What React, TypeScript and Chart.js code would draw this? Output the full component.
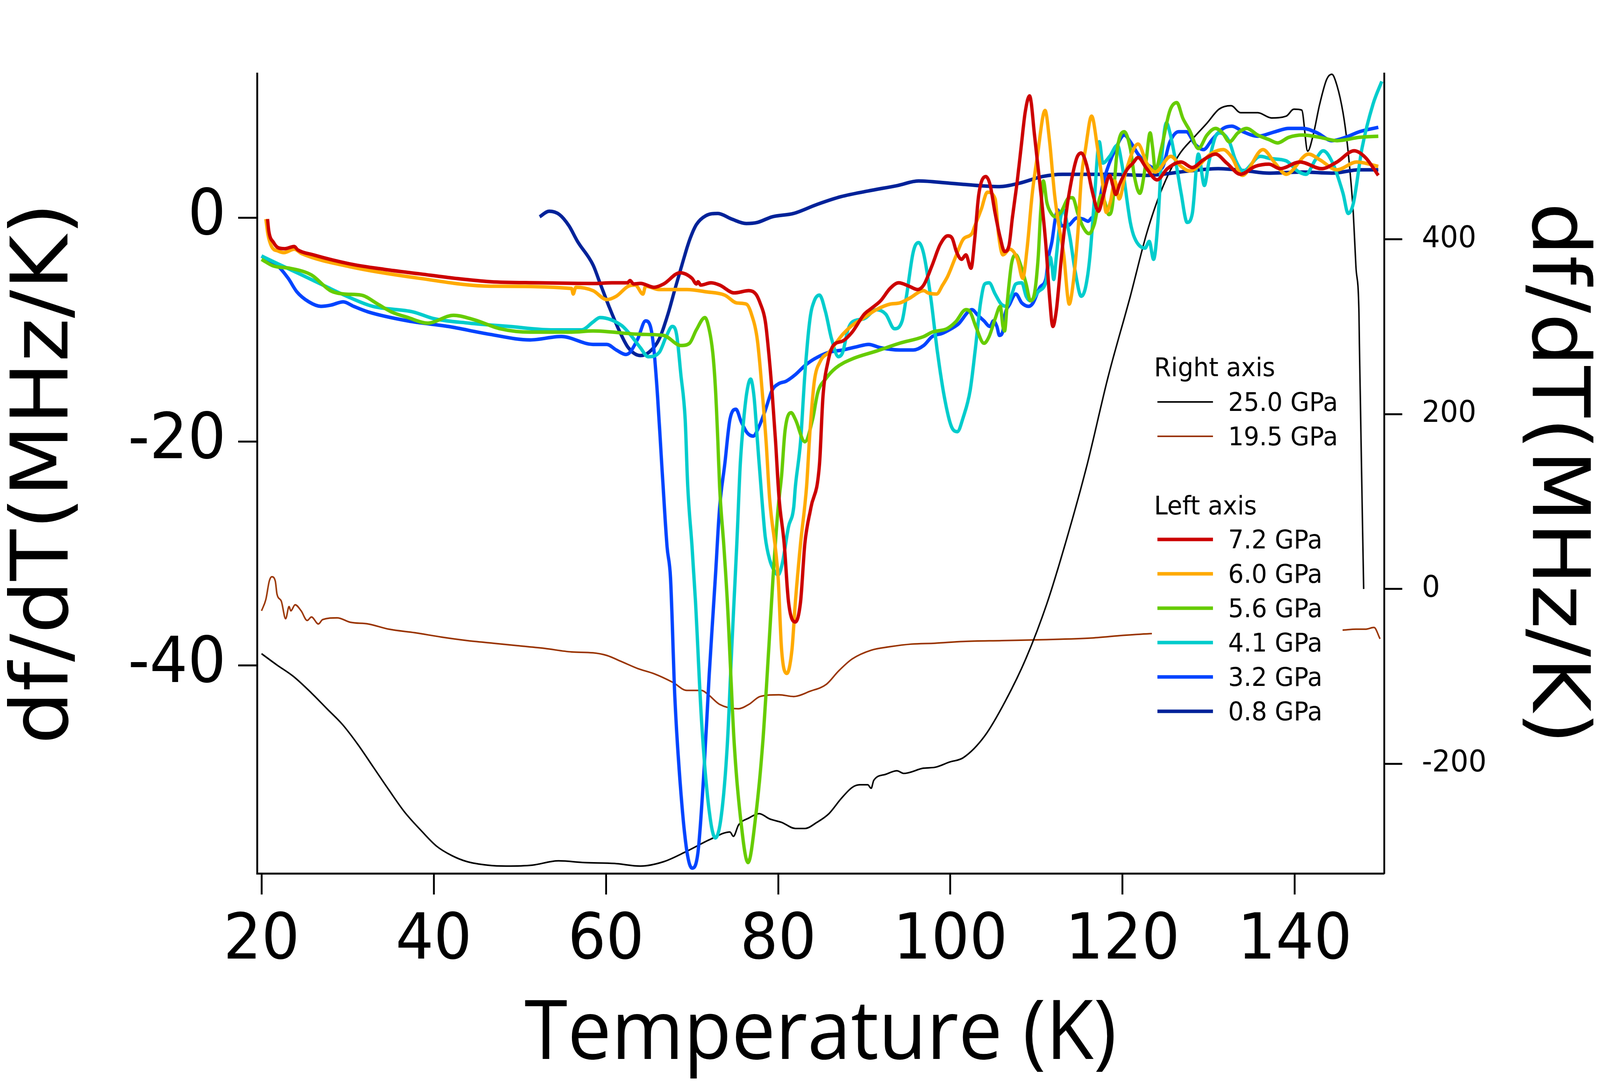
import React, { useEffect, useRef } from 'react';
import { Chart, registerables } from 'chart.js';

Chart.register(...registerables);

const W = 4320;
const H = 2770;

// ---------- axis ranges & ticks ----------
const X_MIN = 19.48;
const X_MAX = 150.37;
const YL_MIN = -58.57;
const YL_MAX = 12.91;
const YR_MIN = -325.4;
const YR_MAX = 589.9;
const X_TICKS = [20, 40, 60, 80, 100, 120, 140];
const YL_TICKS = [-40, -20, 0];
const YR_TICKS = [-200, 0, 200, 400];

// ---------- 7.2 GPa (left axis) ----------
const T_72 = [20.7, 20.85, 21.4, 21.9, 22.7, 23.8, 24.2, 26.0, 30.2, 34.3, 38.4, 42.5, 46.6, 52.2, 56.8, 58.5, 60.7, 62.5, 62.8, 63.2, 64.0, 65.6, 66.7, 68.6, 70.0, 70.5, 70.7, 71.0, 72.2, 73.2, 74.9, 76.6, 77.4, 77.9, 78.5, 78.9, 79.3, 79.7, 80.1, 80.7, 81.2, 82.0, 82.6, 83.1, 83.8, 84.8, 85.2, 85.8, 86.4, 87.5, 88.6, 90.0, 90.8, 91.9, 93.0, 94.0, 95.2, 96.2, 96.9, 97.9, 98.8, 99.7, 100.2, 100.7, 101.3, 101.8, 102.4, 102.8, 103.3, 104.1, 104.6, 105.2, 105.8, 106.3, 106.8, 107.2, 107.8, 108.2, 108.7, 109.2, 109.8, 110.4, 111.1, 111.5, 111.9, 112.3, 112.9, 113.5, 114.1, 114.7, 115.2, 115.8, 116.5, 117.2, 117.7, 118.5, 118.9, 119.2, 119.7, 120.5, 121.2, 121.8, 122.8, 124.0, 125.2, 126.8, 128.1, 129.4, 130.8, 132.1, 133.7, 135.4, 137.0, 138.3, 140.6, 143.1, 144.9, 146.9, 148.2, 149.7];
const V_72 = [-0.1, -1.2, -2.2, -2.65, -2.75, -2.55, -2.85, -3.3, -4.1, -4.6, -5.0, -5.4, -5.7, -5.8, -5.85, -5.86, -5.8, -5.8, -5.6, -5.9, -5.85, -6.2, -5.9, -4.9, -5.4, -5.9, -5.7, -6.0, -5.8, -6.0, -6.7, -6.5, -6.8, -7.6, -9.2, -12.0, -15.6, -20.0, -25.0, -29.1, -34.3, -36.1, -34.3, -29.1, -25.9, -22.0, -16.0, -12.8, -11.4, -11.0, -10.2, -8.6, -8.1, -7.4, -6.3, -5.8, -6.1, -6.4, -6.0, -4.2, -2.4, -1.6, -1.8, -3.0, -3.7, -3.3, -4.5, -2.1, 2.1, 3.7, 3.0, 0.4, -1.8, -3.0, -2.5, 0.0, 3.5, 6.2, 9.5, 10.9, 7.2, 3.0, -2.5, -6.9, -9.7, -8.3, -3.5, 0.7, 3.5, 5.4, 5.8, 4.8, 2.3, 0.6, 1.8, 3.8, 2.8, 2.1, 3.1, 4.3, 4.9, 5.4, 4.4, 3.4, 4.4, 5.0, 4.5, 5.2, 5.7, 4.9, 3.9, 4.6, 4.8, 4.4, 5.0, 4.4, 5.0, 6.0, 5.4, 3.8];

// ---------- 6.0 GPa (left axis) ----------
const T_60 = [20.5, 20.75, 21.2, 21.9, 22.6, 23.8, 24.7, 30.2, 38.4, 46.6, 56.0, 56.2, 56.5, 58.5, 60.1, 61.2, 62.6, 63.4, 64.3, 64.6, 66.2, 69.4, 71.6, 73.8, 75.2, 76.3, 76.9, 77.6, 78.2, 78.6, 79.0, 80.0, 80.4, 81.0, 81.6, 82.0, 82.6, 83.3, 83.7, 84.2, 84.9, 85.9, 87.5, 88.6, 90.0, 91.4, 93.0, 94.1, 95.2, 96.9, 97.4, 98.4, 99.1, 99.7, 100.6, 101.5, 102.5, 102.8, 103.6, 104.3, 105.2, 105.6, 106.1, 106.9, 107.8, 108.4, 108.9, 109.5, 110.1, 111.0, 111.5, 112.1, 112.6, 113.2, 113.6, 113.8, 114.2, 114.8, 115.2, 115.7, 116.4, 117.1, 117.6, 118.1, 118.6, 119.1, 119.6, 120.4, 121.8, 122.8, 123.8, 125.6, 126.8, 127.8, 130.4, 131.7, 132.7, 133.9, 136.3, 137.7, 139.0, 141.6, 142.9, 144.9, 147.2, 149.7];
const V_60 = [-0.1, -1.5, -2.6, -2.95, -3.1, -2.8, -3.2, -4.35, -5.4, -6.1, -6.3, -6.8, -6.2, -6.5, -7.3, -7.0, -6.1, -6.0, -6.8, -6.1, -6.4, -6.4, -6.6, -6.9, -7.6, -7.7, -8.6, -11.0, -16.0, -20.0, -25.0, -32.2, -38.6, -40.7, -38.6, -34.3, -29.1, -24.0, -19.0, -14.6, -12.8, -12.0, -10.4, -9.6, -8.9, -8.2, -7.7, -7.6, -7.2, -6.5, -6.7, -6.8, -6.0, -5.2, -3.5, -1.9, -1.4, -0.8, 0.8, 2.3, 1.7, -1.5, -3.3, -2.8, -3.7, -5.4, -2.8, 2.1, 5.5, 9.6, 7.0, 2.1, -0.7, -3.5, -6.9, -7.7, -6.2, -1.4, 3.5, 6.2, 9.1, 6.2, 3.6, 0.5, 1.5, 3.3, 1.7, 4.2, 6.6, 4.9, 4.1, 5.5, 4.6, 4.2, 5.8, 6.1, 5.4, 3.8, 6.1, 4.9, 3.9, 5.7, 5.2, 4.3, 5.0, 4.6];

// ---------- 5.6 GPa (left axis) ----------
const T_56 = [20.0, 21.4, 23.3, 25.8, 28.0, 29.6, 31.6, 33.5, 35.1, 37.0, 39.3, 42.3, 44.7, 47.7, 51.2, 56.0, 58.5, 64.0, 66.7, 68.7, 69.7, 70.5, 71.5, 72.0, 72.4, 72.7, 73.0, 73.2, 73.7, 74.1, 74.9, 75.6, 76.5, 77.4, 78.2, 78.9, 79.4, 80.0, 80.4, 80.8, 81.5, 82.0, 83.1, 84.0, 84.6, 85.5, 86.7, 88.6, 91.4, 94.1, 96.9, 97.9, 99.6, 100.6, 101.8, 102.3, 103.0, 103.9, 104.5, 105.2, 105.8, 106.1, 106.3, 106.6, 107.1, 107.6, 108.2, 108.8, 109.3, 109.8, 110.2, 110.5, 110.8, 111.2, 111.5, 112.2, 112.9, 113.8, 114.2, 114.8, 115.4, 116.1, 116.7, 117.5, 117.9, 118.4, 118.8, 119.4, 120.2, 120.9, 121.4, 122.0, 122.7, 123.2, 123.5, 123.8, 124.5, 125.5, 126.3, 127.0, 127.8, 128.8, 129.8, 130.8, 131.6, 132.4, 133.4, 134.4, 135.7, 137.0, 138.0, 139.3, 140.9, 142.9, 144.9, 147.5, 149.7];
const V_56 = [-3.7, -4.3, -4.5, -5.1, -6.5, -6.8, -6.9, -7.7, -8.4, -8.9, -9.4, -8.7, -9.1, -9.9, -10.2, -10.2, -10.1, -10.4, -10.5, -11.4, -11.2, -10.0, -8.9, -10.0, -12.0, -15.0, -20.0, -24.0, -29.4, -34.3, -47.0, -53.4, -57.6, -53.4, -47.0, -38.6, -32.2, -25.9, -23.0, -19.0, -17.4, -18.0, -20.0, -18.0, -15.6, -14.4, -13.4, -12.6, -11.9, -11.2, -10.6, -10.2, -9.9, -9.3, -8.2, -8.4, -9.8, -11.2, -10.6, -9.0, -7.9, -9.7, -10.1, -7.6, -4.1, -3.3, -4.3, -5.9, -7.4, -6.6, -3.5, 0.7, 3.3, 1.4, 0.7, 0.1, 0.6, 1.8, 1.8, 0.4, -0.8, -1.4, -0.6, 2.0, 1.5, 0.3, 1.0, 6.2, 7.7, 6.2, 3.6, 2.2, 4.9, 7.6, 6.2, 4.2, 6.2, 9.6, 10.3, 8.9, 7.8, 6.2, 7.4, 8.0, 7.6, 6.8, 7.6, 8.0, 7.4, 7.0, 6.7, 7.2, 7.4, 7.2, 6.9, 7.2, 7.3];

// ---------- 4.1 GPa (left axis) ----------
const T_41 = [20.0, 21.9, 24.7, 27.4, 30.2, 32.9, 37.6, 40.0, 44.1, 48.8, 53.6, 57.2, 58.5, 59.3, 61.8, 62.8, 64.0, 64.9, 66.2, 67.0, 67.7, 68.2, 68.7, 69.2, 69.5, 70.0, 70.4, 71.1, 71.9, 72.7, 73.4, 74.1, 74.6, 75.2, 75.6, 76.0, 76.4, 76.8, 77.2, 77.6, 78.1, 78.5, 79.0, 79.6, 80.0, 80.5, 81.2, 81.8, 82.0, 82.6, 83.1, 83.7, 84.2, 84.8, 85.5, 86.2, 87.0, 87.5, 88.1, 88.6, 90.0, 91.4, 92.5, 93.5, 94.4, 94.9, 95.7, 96.3, 96.9, 97.7, 98.5, 99.3, 100.1, 100.8, 101.5, 102.3, 102.9, 103.5, 104.0, 104.5, 105.2, 105.9, 106.5, 107.1, 107.6, 108.3, 108.8, 109.3, 110.2, 111.1, 111.6, 111.8, 112.0, 112.3, 112.8, 113.2, 113.5, 113.9, 114.5, 115.2, 115.7, 116.2, 116.7, 117.3, 117.7, 118.5, 119.4, 119.9, 120.9, 121.4, 122.6, 123.1, 123.6, 124.1, 124.5, 125.1, 125.5, 126.2, 126.8, 127.5, 128.1, 128.8, 129.5, 130.0, 130.8, 131.3, 132.4, 133.1, 134.0, 136.0, 137.2, 139.0, 140.3, 141.3, 142.4, 143.3, 144.4, 145.6, 146.2, 146.8, 147.8, 149.1, 150.1];
const V_41 = [-3.4, -4.1, -5.1, -6.1, -7.1, -7.9, -8.4, -9.0, -9.4, -9.7, -10.0, -10.0, -9.3, -8.9, -9.6, -10.4, -11.6, -12.4, -12.0, -10.6, -9.7, -10.4, -14.0, -18.0, -24.0, -29.4, -34.3, -44.9, -52.4, -55.4, -53.4, -47.0, -38.6, -29.1, -22.0, -18.0, -15.4, -14.4, -16.0, -20.0, -25.0, -28.5, -30.5, -31.6, -31.9, -30.8, -27.6, -25.9, -24.0, -20.0, -14.0, -9.0, -7.4, -6.9, -8.4, -10.8, -12.4, -12.0, -10.0, -9.3, -9.0, -8.2, -8.6, -9.9, -9.2, -7.0, -3.0, -2.2, -3.2, -7.0, -12.0, -16.0, -18.6, -19.1, -17.8, -15.4, -11.7, -7.6, -5.9, -5.8, -6.8, -7.7, -7.9, -6.9, -5.9, -5.8, -7.0, -7.4, -6.6, -5.7, -3.5, -4.3, -5.5, -3.5, 0.0, 0.7, -0.3, -1.8, -4.8, -7.0, -6.2, -3.5, 1.4, 6.8, 4.9, 5.5, 6.5, 4.9, -0.4, -1.8, -2.7, -2.1, -3.7, -0.4, 4.9, 8.5, 7.6, 4.9, 2.2, -0.4, 0.4, 5.7, 2.9, 4.9, 7.3, 7.6, 6.8, 5.2, 4.2, 5.5, 5.3, 5.1, 4.2, 3.9, 5.2, 6.0, 4.9, 2.2, 0.4, 1.3, 6.2, 10.2, 12.2];

// ---------- 3.2 GPa (left axis) ----------
const T_32 = [20.0, 21.9, 23.1, 24.1, 25.5, 26.9, 28.0, 29.5, 30.7, 32.4, 37.0, 41.7, 46.5, 51.2, 54.8, 58.5, 60.1, 61.2, 62.3, 62.8, 63.7, 64.6, 65.2, 65.6, 66.0, 66.4, 66.8, 67.1, 67.5, 68.0, 68.7, 69.4, 70.0, 70.7, 71.4, 72.0, 72.7, 73.2, 73.8, 74.4, 75.1, 75.7, 76.4, 77.1, 77.8, 78.5, 79.3, 80.1, 80.9, 82.0, 83.1, 84.2, 85.9, 87.5, 89.2, 90.5, 91.9, 94.1, 95.7, 96.9, 97.9, 99.1, 100.1, 100.9, 102.5, 103.2, 103.9, 104.6, 105.0, 105.4, 105.7, 106.1, 106.3, 106.9, 107.6, 108.3, 109.1, 109.6, 110.4, 111.1, 111.4, 111.8, 112.2, 112.5, 112.9, 113.6, 114.7, 115.4, 116.0, 116.4, 116.9, 117.9, 119.2, 120.2, 120.9, 121.8, 123.2, 124.5, 125.5, 126.5, 127.4, 128.4, 129.4, 130.4, 131.7, 132.7, 134.0, 135.7, 137.7, 139.3, 140.9, 142.6, 144.3, 145.9, 147.5, 149.7];
const V_32 = [-3.4, -4.3, -5.4, -6.6, -7.5, -7.9, -7.8, -7.5, -7.9, -8.4, -9.2, -9.7, -10.4, -10.9, -10.6, -11.3, -11.3, -11.8, -12.2, -12.0, -10.8, -9.2, -9.8, -12.0, -16.0, -21.0, -26.0, -29.4, -32.2, -42.8, -51.3, -56.6, -58.1, -56.6, -49.2, -40.7, -32.2, -25.9, -22.0, -18.0, -17.1, -18.2, -19.2, -19.5, -18.6, -17.2, -15.4, -14.8, -14.6, -14.0, -13.2, -12.6, -12.0, -11.8, -11.5, -11.3, -11.6, -11.8, -11.8, -11.4, -10.6, -10.3, -9.9, -9.5, -8.2, -8.7, -9.2, -9.7, -9.2, -9.7, -10.5, -10.1, -8.8, -7.7, -6.8, -7.6, -7.9, -7.6, -6.2, -5.4, -3.5, -2.1, 0.0, 0.7, -0.7, -0.7, 0.0, -0.1, -0.3, 0.0, 0.3, 3.6, 6.2, 7.4, 6.8, 5.7, 4.6, 4.4, 6.8, 7.7, 7.7, 6.6, 6.1, 7.0, 8.0, 8.2, 7.7, 7.3, 7.7, 8.0, 8.0, 7.6, 6.9, 7.2, 7.7, 8.1];

// ---------- 0.8 GPa (left axis) ----------
const T_08 = [52.3, 53.4, 54.6, 55.7, 56.7, 58.5, 59.3, 60.4, 61.5, 62.6, 64.0, 65.0, 66.2, 67.2, 68.0, 68.9, 69.7, 70.5, 71.6, 73.0, 74.6, 76.3, 77.6, 79.3, 81.8, 84.5, 87.3, 90.4, 93.9, 96.3, 99.9, 101.5, 105.7, 108.0, 110.7, 113.0, 118.4, 122.8, 127.8, 131.1, 134.4, 137.0, 140.9, 144.3, 147.5, 149.7];
const V_08 = [0.1, 0.6, 0.3, -0.7, -2.1, -4.2, -5.8, -8.0, -10.0, -11.6, -12.3, -12.0, -10.8, -8.6, -6.4, -4.0, -2.0, -0.6, 0.2, 0.4, -0.1, -0.5, -0.4, 0.1, 0.4, 1.2, 1.9, 2.4, 2.9, 3.3, 3.1, 3.0, 2.8, 3.1, 3.7, 3.9, 3.9, 3.8, 4.2, 4.4, 4.2, 4.0, 4.1, 4.0, 4.3, 4.3];

// ---------- 25.0 GPa (right axis) ----------
const T_250 = [20.0, 21.8, 23.7, 25.8, 27.6, 29.4, 31.2, 33.0, 34.8, 36.6, 38.5, 40.3, 42.1, 43.9, 46.3, 48.4, 51.4, 54.5, 57.5, 61.0, 64.0, 66.7, 69.4, 72.2, 74.4, 74.8, 75.4, 76.6, 77.8, 79.0, 80.4, 82.0, 83.1, 84.5, 85.9, 87.3, 88.6, 89.5, 90.4, 90.8, 91.1, 92.5, 93.8, 94.6, 96.9, 98.2, 99.9, 101.5, 104.0, 106.4, 108.8, 111.2, 113.5, 115.9, 118.3, 120.9, 122.8, 124.5, 126.5, 128.4, 129.8, 131.2, 132.6, 133.7, 135.7, 137.3, 139.0, 139.9, 140.8, 141.5, 142.1, 142.9, 143.7, 144.3, 144.9, 145.6, 146.1, 146.5, 146.8, 147.1, 147.45, 147.5, 148.0];
const V_250 = [-74, -87, -100, -119, -137, -155, -178, -204, -230, -255, -276, -294, -305, -312, -316, -317, -316, -311, -313, -314, -317, -312, -300, -286, -278, -283, -270, -262, -257, -263, -267, -274, -274, -267, -257, -240, -227, -224, -224, -228, -219, -212, -208, -211, -205, -204, -198, -193, -168, -128, -79, -17, 57, 143, 242, 335, 407, 456, 496, 518, 533, 549, 553, 545, 545, 539, 541, 549, 548, 501, 518, 555, 583, 589, 576, 545, 509, 468, 429, 369, 316, 281, 0];

// ---------- 19.5 GPa (right axis) ----------
const T_195 = [20.0, 20.5, 20.9, 21.2, 21.6, 21.8, 22.3, 22.8, 23.2, 23.4, 23.9, 24.6, 25.3, 25.8, 26.6, 27.1, 28.8, 30.3, 32.4, 34.8, 37.8, 40.9, 43.9, 46.9, 49.9, 52.9, 56.0, 58.5, 60.1, 61.8, 63.7, 65.6, 67.8, 69.4, 71.1, 71.9, 73.2, 75.4, 76.6, 77.9, 80.1, 81.8, 83.7, 85.6, 87.0, 88.6, 90.8, 93.0, 95.5, 98.2, 101.5, 106.0, 110.6, 116.5, 120.1, 123.5, 130.0, 140.0, 145.5, 147.1, 148.2, 149.2, 149.9];
const V_195 = [-25, -12, 9, 14, 9, -6, -14, -34, -20, -25, -18, -25, -36, -32, -40, -35, -33, -38, -40, -46, -50, -55, -59, -62, -65, -68, -72, -73, -76, -83, -91, -97, -107, -116, -116, -121, -132, -137, -132, -123, -121, -123, -117, -109, -94, -80, -70, -66, -63, -62, -60, -59, -58, -56, -53, -51, -50, -48, -47, -46, -46, -44, -57];

// ---------- series styling ----------
const SERIES = [
  { label: '7.2 GPa', T: T_72, V: V_72, color: '#CC0000', width: 9, axis: 'yL' },
  { label: '6.0 GPa', T: T_60, V: V_60, color: '#FFAA00', width: 9, axis: 'yL' },
  { label: '5.6 GPa', T: T_56, V: V_56, color: '#66CC00', width: 9, axis: 'yL' },
  { label: '4.1 GPa', T: T_41, V: V_41, color: '#00CCCC', width: 9, axis: 'yL' },
  { label: '3.2 GPa', T: T_32, V: V_32, color: '#0044FF', width: 9, axis: 'yL' },
  { label: '0.8 GPa', T: T_08, V: V_08, color: '#002299', width: 9, axis: 'yL' },
  { label: '25.0 GPa', T: T_250, V: V_250, color: '#000000', width: 4, axis: 'yR' },
  { label: '19.5 GPa', T: T_195, V: V_195, color: '#993300', width: 4, axis: 'yR' },
];

const LEGEND_GROUPS = [
  { title: 'Right axis', items: ['25.0 GPa', '19.5 GPa'] },
  { title: 'Left axis', items: ['7.2 GPa', '6.0 GPa', '5.6 GPa', '4.1 GPa', '3.2 GPa', '0.8 GPa'] },
];

const LG = {
  boxX: 3110, boxY: 885, boxW: 515, boxH: 985,
  titleX: 3116, lineX0: 3125, lineX1: 3275, textX: 3316,
  baselines: [[963, 1052, 1140], [1317, 1404, 1492, 1580, 1668, 1756, 1844]],
  font: 66,
};

const sectionLegend = {
  id: 'sectionLegend',
  afterDatasetsDraw(chart: any) {
    const ctx = chart.ctx;
    ctx.save();
    ctx.fillStyle = '#ffffff';
    ctx.fillRect(LG.boxX, LG.boxY, LG.boxW, LG.boxH);
    ctx.font = `${LG.font}px "DejaVu Sans"`;
    ctx.textBaseline = 'alphabetic';
    ctx.textAlign = 'left';
    LEGEND_GROUPS.forEach((g, gi) => {
      const bl = LG.baselines[gi];
      ctx.fillStyle = '#000';
      ctx.fillText(g.title, LG.titleX, bl[0]);
      g.items.forEach((name, ii) => {
        const s = SERIES.find((d) => d.label === name)!;
        const b = bl[ii + 1];
        ctx.strokeStyle = s.color;
        ctx.lineWidth = s.width;
        ctx.lineCap = 'butt';
        ctx.beginPath();
        ctx.moveTo(LG.lineX0, b - 23);
        ctx.lineTo(LG.lineX1, b - 23);
        ctx.stroke();
        ctx.fillStyle = '#000';
        ctx.fillText(name, LG.textX, b);
      });
    });
    ctx.restore();
  },
};

function axisGrid(len: number) {
  return {
    display: true,
    drawOnChartArea: false,
    drawTicks: true,
    tickLength: len,
    tickWidth: 5,
    tickColor: '#000',
    color: '#000',
  };
}

export default function App() {
  const ref = useRef<HTMLCanvasElement | null>(null);

  useEffect(() => {
    const canvas = ref.current;
    if (!canvas) return;
    const datasets = SERIES.map((s) => ({
      label: s.label,
      data: s.T.map((t, i) => ({ x: t, y: s.V[i] })),
      borderColor: s.color,
      backgroundColor: s.color,
      borderWidth: s.width,
      pointRadius: 0,
      showLine: true,
      fill: false,
      cubicInterpolationMode: 'monotone' as const,
      yAxisID: s.axis,
      borderJoinStyle: 'round' as const,
      borderCapStyle: 'butt' as const,
    }));

    const chart = new Chart(canvas, {
      type: 'scatter',
      data: { datasets },
      options: {
        responsive: false,
        maintainAspectRatio: false,
        devicePixelRatio: 1,
        animation: false,
        events: [],
        layout: { padding: { top: 188, left: 0, right: 0, bottom: 0 } },
        plugins: { legend: { display: false }, tooltip: { enabled: false } },
        scales: {
          x: {
            type: 'linear',
            position: 'bottom',
            min: X_MIN,
            max: X_MAX,
            afterBuildTicks: (s: any) => { s.ticks = X_TICKS.map((v) => ({ value: v })); },
            afterFit: (s: any) => { s.height = 534; },
            grid: axisGrid(54),
            border: { display: true, color: '#000', width: 5 },
            ticks: {
              color: '#000',
              font: { family: 'DejaVu Sans', size: 162 },
              padding: 25,
              maxRotation: 0,
              autoSkip: false,
              callback: (v: any) => String(v),
            },
            title: {
              display: true,
              text: 'Temperature (K)',
              color: '#000',
              font: { family: 'Open Sans', size: 211, lineHeight: 1 },
              padding: { top: 0, bottom: 14 },
            },
          },
          yL: {
            type: 'linear',
            position: 'left',
            min: YL_MIN,
            max: YL_MAX,
            afterBuildTicks: (s: any) => { s.ticks = YL_TICKS.map((v) => ({ value: v })); },
            afterFit: (s: any) => { s.width = 694; },
            grid: axisGrid(51),
            border: { display: true, color: '#000', width: 5 },
            ticks: {
              color: '#000',
              font: { family: 'DejaVu Sans', size: 162 },
              padding: 33,
              callback: (v: any) => String(v),
            },
            title: {
              display: true,
              text: 'df/dT(MHz/K)',
              color: '#000',
              font: { family: 'DejaVu Sans', size: 214, lineHeight: 1 },
              padding: { top: 19, bottom: 0 },
            },
          },
          yR: {
            type: 'linear',
            position: 'right',
            min: YR_MIN,
            max: YR_MAX,
            afterBuildTicks: (s: any) => { s.ticks = YR_TICKS.map((v) => ({ value: v })); },
            afterFit: (s: any) => { s.width = 583; },
            grid: axisGrid(49),
            border: { display: true, color: '#000', width: 5 },
            ticks: {
              color: '#000',
              font: { family: 'DejaVu Sans', size: 77 },
              padding: 53,
              callback: (v: any) => String(v),
            },
            title: {
              display: true,
              text: 'df/dT(MHz/K)',
              color: '#000',
              font: { family: 'DejaVu Sans', size: 214, lineHeight: 1 },
              padding: { top: 18, bottom: 0 },
            },
          },
        },
      } as any,
      plugins: [sectionLegend],
    });
    return () => chart.destroy();
  }, []);

  // The drawing surface is always 4320x2770; it is shown stretched to the
  // visible viewport so the whole figure is photographed.
  return (
    <div style={{ position: 'fixed', left: 0, top: 0, width: '100vw', height: '100vh', background: '#ffffff', overflow: 'hidden' }}>
      <canvas ref={ref} width={W} height={H} style={{ width: '100%', height: '100%', display: 'block' }} />
    </div>
  );
}
